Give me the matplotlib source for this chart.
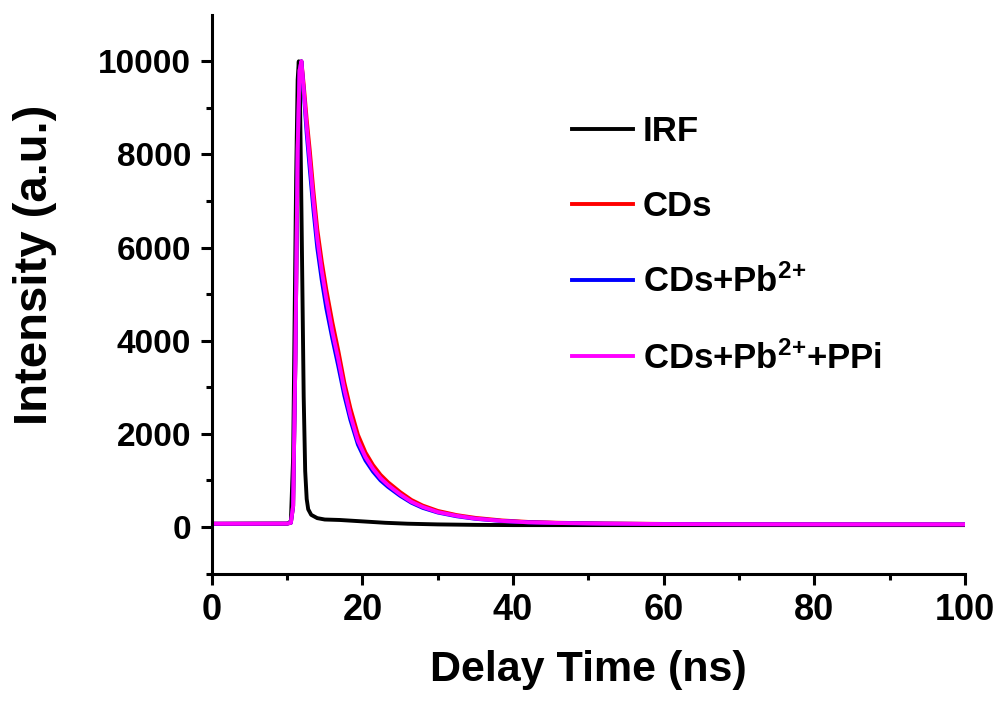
import numpy as np
import matplotlib
matplotlib.use('Agg')
import matplotlib.pyplot as plt

plt.rcParams['font.family'] = ['Liberation Sans', 'DejaVu Sans']
plt.rcParams['font.weight'] = 'bold'
plt.rcParams['mathtext.fontset'] = 'custom'
plt.rcParams['mathtext.rm'] = 'Liberation Sans:bold'
plt.rcParams['mathtext.bf'] = 'Liberation Sans:bold'
plt.rcParams['mathtext.default'] = 'bf'

# delay time (ns) and intensity (a.u.)
t_irf = [0, 5, 10.0, 10.5, 10.8, 11.0, 11.2, 11.4, 11.55, 11.7, 11.85, 12.0, 12.2, 12.4,
         12.6, 12.8, 13.2, 14.0, 15.0, 17.0, 20.0, 23.0, 26.0, 30.0, 35.0, 40.0, 60.0, 80.0, 100.0]
irf = [65, 70, 70, 120, 1500, 4500, 7500, 9600, 10000, 9300, 7500, 5500, 2800, 1200,
       600, 380, 260, 190, 160, 150, 120, 90, 70, 55, 45, 40, 40, 40, 40]

t_cd = [0, 5, 10.0, 10.5, 10.8, 11.1, 11.4, 11.65, 11.9, 12.2, 12.6, 13.0, 13.5, 14.0, 14.6,
        15.2, 16.0, 16.8, 17.6, 18.4, 19.4, 20.4, 21.4, 22.4, 23.4, 25.0, 26.5, 28.0, 30.0,
        32.5, 35.0, 38.5, 42.0, 46.0, 52.0, 60.0, 70.0, 80.0, 90.0, 100.0]
cds = [70, 70, 72, 90, 450, 3600, 8100, 9800, 10000, 9500, 8750, 8100, 7200, 6400, 5700,
       5100, 4400, 3780, 3100, 2550, 1980, 1600, 1330, 1120, 960, 750, 580, 460, 345,
       255, 195, 140, 108, 90, 75, 65, 60, 57, 56, 55]
cds_pb = [70, 70, 72, 90, 450, 3600, 8100, 9800, 10000, 9350, 8450, 7700, 6800, 6000, 5300,
          4700, 4050, 3450, 2820, 2300, 1770, 1430, 1190, 1000, 860, 670, 520, 410, 310,
          230, 175, 128, 100, 85, 72, 63, 58, 56, 55, 55]
cds_pb_ppi = [70, 70, 72, 90, 450, 3600, 8100, 9800, 10000, 9400, 8600, 7900, 7000, 6200, 5500,
              4900, 4200, 3600, 2950, 2400, 1850, 1500, 1250, 1050, 900, 700, 540, 430, 320,
              240, 180, 130, 100, 85, 72, 62, 58, 56, 55, 55]

labels = ['IRF', 'CDs', r'CDs+Pb$^{2{+}}$', r'CDs+Pb$^{2{+}}$+PPi']
colors = ['black', 'red', 'blue', 'magenta']

fig = plt.figure(figsize=(9.99, 7.02), dpi=100)
ax = fig.add_axes([0.212, 0.183, 0.754, 0.796])

ax.plot(t_irf, irf, color=colors[0], lw=2.8, label=labels[0])
ax.plot(t_cd, cds, color=colors[1], lw=2.8, label=labels[1])
ax.plot(t_cd, cds_pb, color=colors[2], lw=2.8, label=labels[2])
ax.plot(t_cd, cds_pb_ppi, color=colors[3], lw=2.8, label=labels[3])

ax.set_xlim(0, 100)
ax.set_ylim(-1000, 11000)
ax.spines['top'].set_visible(False)
ax.spines['right'].set_visible(False)
ax.spines['left'].set_linewidth(2.2)
ax.spines['bottom'].set_linewidth(2.2)

ax.set_xticks(np.arange(0, 101, 20))
ax.set_xticks(np.arange(10, 100, 20), minor=True)
ax.set_yticks(np.arange(0, 10001, 2000))
ax.set_yticks(np.arange(-1000, 11000, 2000), minor=True)
ax.tick_params(which='major', direction='out', length=8, width=2.2)
ax.tick_params(which='minor', direction='out', length=4.5, width=2.2)
ax.tick_params(axis='y', labelsize=24, pad=7)
ax.tick_params(axis='x', labelsize=26, pad=6)

ax.set_xlabel('Delay Time (ns)', fontsize=31, fontweight='bold', labelpad=16)
ax.set_ylabel('Intensity (a.u.)', fontsize=34, fontweight='bold')
ax.yaxis.set_label_coords(-0.205, 0.552)

ax.legend(loc='upper left', bbox_to_anchor=(0.478, 0.82), frameon=False,
          fontsize=25, handlelength=1.75, handletextpad=0.3, labelspacing=1.2,
          borderpad=0, borderaxespad=0)

plt.savefig('out.png', dpi=100)
